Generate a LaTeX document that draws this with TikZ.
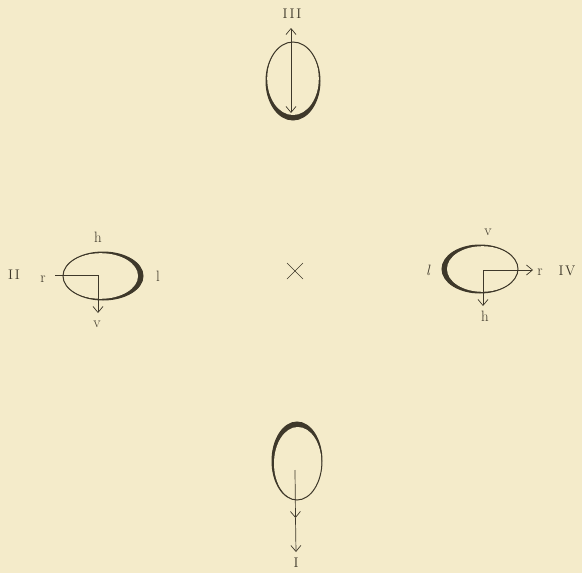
\documentclass[tikz,border=0pt]{standalone}
\usetikzlibrary{arrows.meta,calc}
\definecolor{paper}{RGB}{244,235,202}
\definecolor{ink}{RGB}{62,56,42}
\newcommand{\rn}[1]{#1}
\begin{document}
\begin{tikzpicture}[x=1pt,y=-1pt,
  thin line/.style={draw=ink,line width=0.7pt},
  ring/.style={draw=ink,line width=1pt},
  arr/.style={thin line,-{Straight Barb[length=6pt,width=10pt,line width=0.7pt]}},
  lab/.style={text=ink,inner sep=0pt,font=\fontsize{15}{17}\selectfont},
  num/.style={text=ink,inner sep=0pt,font=\fontsize{14}{16}\selectfont}]
\fill[paper] (0,0) rectangle (582,573);
\useasboundingbox (0,0) rectangle (582,573);
% ---- III (top), thick at bottom
\fill[ink] (293,81) ellipse [x radius=27, y radius=39];
\fill[paper] (293,78.5) ellipse [x radius=25.8, y radius=36.5];
\draw[ring] (293,81) ellipse [x radius=27, y radius=39];
\coordinate (IIIa) at (291,113);
\coordinate (IIIb) at (291,28);
\draw[thin line,{Straight Barb[length=6pt,width=10pt,line width=0.7pt]}-{Straight Barb[length=6pt,width=10pt,line width=0.7pt]}] (IIIa) -- (IIIb);
\node[num] (tIII) at (292,14) {I\kern2pt I\kern2pt I};
% ---- I (bottom), thick at top
\fill[ink] (297,461) ellipse [x radius=25, y radius=39];
\fill[paper] (297.8,463.5) ellipse [x radius=23.8, y radius=36.5];
\draw[ring] (297,461) ellipse [x radius=25, y radius=39];
\coordinate (Ia) at (295,470);
\coordinate (Ib) at (295.5,518);
\coordinate (Ic) at (296,552);
\draw[arr] (Ia) -- (Ib);
\draw[arr] (Ib) -- (Ic);
\node[num] (tI) at (296,563) {I};
% ---- II (left), thick at right
\fill[ink] (103,276) ellipse [x radius=40, y radius=24];
\fill[paper] (100.5,276) ellipse [x radius=37.5, y radius=22.8];
\draw[ring] (103,276) ellipse [x radius=40, y radius=24];
\coordinate (IIa) at (55,275);
\coordinate (IIb) at (98,275);
\coordinate (IIc) at (98,313);
\draw[thin line] (IIa) -- (IIb);
\draw[arr] (IIb) -- (IIc);
\node[num] (tII) at (14,275) {I\kern2pt I};
\node[lab] (IIr) at (43,279) {r};
\node[lab] (IIh) at (98,237) {h};
\node[lab] (IIl) at (158,276) {l};
\node[lab] (IIv) at (97,324) {v};
% ---- IV (right), thick at left
\fill[ink] (480,269) ellipse [x radius=38, y radius=24];
\fill[paper] (482.5,269) ellipse [x radius=35.5, y radius=22.8];
\draw[ring] (480,269) ellipse [x radius=38, y radius=24];
\coordinate (IVa) at (483,270);
\coordinate (IVb) at (533,270);
\coordinate (IVc) at (483,306);
\draw[arr] (IVa) -- (IVb);
\draw[arr] (IVa) -- (IVc);
\node[num] (tIV) at (567,271) {I\kern1.5pt V};
\node[lab] (IVr) at (540,272) {r};
\node[lab] (IVv) at (488,232) {v};
\node[lab] (IVl) at (428,270) {\itshape l};
\node[lab] (IVh) at (485,316) {h};
% ---- centre cross
\coordinate (c) at (295,271);
\draw[thin line] ($(c)+(-8,-8)$) -- ($(c)+(8,8)$);
\draw[thin line] ($(c)+(-8,8)$) -- ($(c)+(8,-8)$);
\end{tikzpicture}
\end{document}
